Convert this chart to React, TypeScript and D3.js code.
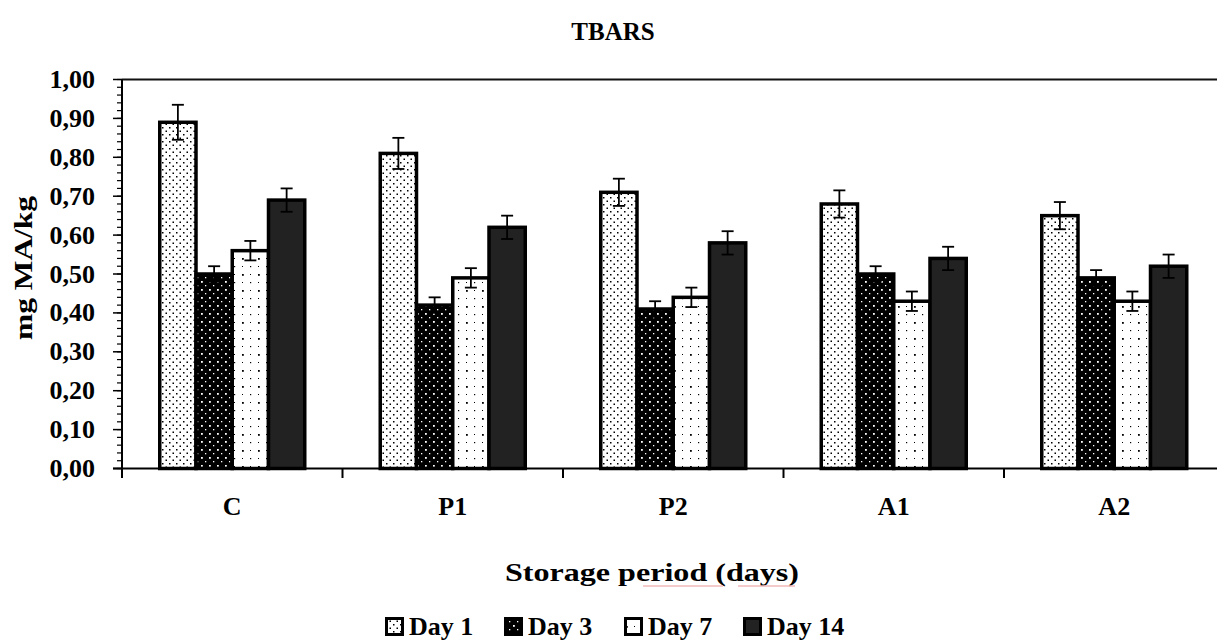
import React from "react";
import * as d3 from "d3";

const categories = ["C", "P1", "P2", "A1", "A2"];
const series = ["Day 1", "Day 3", "Day 7", "Day 14"];
const day1 = [0.89, 0.81, 0.71, 0.68, 0.65];
const day3 = [0.5, 0.42, 0.41, 0.5, 0.49];
const day7 = [0.56, 0.49, 0.44, 0.43, 0.43];
const day14 = [0.69, 0.62, 0.58, 0.54, 0.52];
const err1 = [0.045, 0.04, 0.035, 0.035, 0.035];
const err3 = [0.02, 0.02, 0.02, 0.02, 0.02];
const err7 = [0.025, 0.025, 0.025, 0.025, 0.025];
const err14 = [0.03, 0.03, 0.03, 0.03, 0.03];
const yTicks = [0, 0.1, 0.2, 0.3, 0.4, 0.5, 0.6, 0.7, 0.8, 0.9, 1.0];

const values = [day1, day3, day7, day14];
const errors = [err1, err3, err7, err14];
const fills = ["url(#p1)", "url(#p3)", "url(#p7)", "#222222"];

const W = 1217;
const H = 640;
const left = 122;
const bandW = 220.5;
const FONT = "'Liberation Serif', 'Times New Roman', serif";

export default function App() {
  const x = d3
    .scaleBand<string>()
    .domain(categories)
    .range([left, left + bandW * categories.length])
    .padding(0);
  const xs = d3
    .scaleBand<string>()
    .domain(series)
    .range([37.75, bandW - 37.75])
    .padding(0);
  const y = d3.scaleLinear().domain([0, 1]).range([468.5, 79.5]);
  const minor = d3.range(0, 1.0001, 0.02);
  const fmt = (v: number) => d3.format(".2f")(v).replace(".", ",");

  return (
    <svg width={W} height={H} style={{ display: "block", position: "absolute", left: 0, top: 0 }} fontFamily={FONT}>
      <defs>
        <pattern id="p1" width="7" height="7" patternUnits="userSpaceOnUse">
          <rect width="7" height="7" fill="#fff" />
          <rect x="1" y="1" width="1.5" height="1.5" fill="#000" />
          <rect x="4.5" y="4.5" width="1.5" height="1.5" fill="#000" />
        </pattern>
        <pattern id="p3" width="8" height="8" patternUnits="userSpaceOnUse">
          <rect width="8" height="8" fill="#000" />
          <rect x="1" y="1" width="1.8" height="1.8" fill="#fff" />
          <rect x="5" y="5" width="1.3" height="1.3" fill="#fff" />
        </pattern>
        <pattern id="p7" width="16" height="16" patternUnits="userSpaceOnUse">
          <rect width="16" height="16" fill="#fff" />
          <rect x="2" y="2" width="1.8" height="1.8" fill="#000" />
          <rect x="10" y="10" width="1.2" height="1.2" fill="#000" />
          <rect x="10" y="2" width="1" height="1" fill="#000" />
          <rect x="2" y="10" width="1" height="1" fill="#000" />
        </pattern>
      </defs>
      <rect width={W} height={H} fill="#fff" />

      <text x={613} y={40} textAnchor="middle" fontSize={25} fontWeight="bold">TBARS</text>

      {/* plot border top */}
      <line x1={left} x2={W} y1={y(1)} y2={y(1)} stroke="#111" strokeWidth={2} />

      {/* bars */}
      {categories.map((c, ci) => (
        <g key={c}>
          {series.map((s, si) => {
            const v = values[si][ci];
            const bx = (x(c) as number) + (xs(s) as number);
            const bw = xs.bandwidth();
            return (
              <rect key={s} x={bx} y={y(v)} width={bw} height={y(0) - y(v)} fill={fills[si]} stroke="#000" strokeWidth={3.5} />
            );
          })}
        </g>
      ))}
      {/* error bars */}
      {categories.map((c, ci) => (
        <g key={"e" + c} stroke="#000" strokeWidth={1.8}>
          {series.map((s, si) => {
            const v = values[si][ci];
            const e = errors[si][ci];
            const cx = (x(c) as number) + (xs(s) as number) + xs.bandwidth() / 2;
            return (
              <g key={s}>
                <line x1={cx} x2={cx} y1={y(v + e)} y2={y(v - e)} />
                <line x1={cx - 6} x2={cx + 6} y1={y(v + e)} y2={y(v + e)} />
                <line x1={cx - 6} x2={cx + 6} y1={y(v - e)} y2={y(v - e)} />
              </g>
            );
          })}
        </g>
      ))}

      {/* y axis */}
      <line x1={left} x2={left} y1={y(1)} y2={478} stroke="#000" strokeWidth={2} />
      {minor.map((m, i) => (
        <line key={"m" + i} x1={left - 5} x2={left} y1={y(m)} y2={y(m)} stroke="#000" strokeWidth={1.2} />
      ))}
      {yTicks.map((t) => (
        <g key={"t" + t}>
          <line x1={left - 9} x2={left} y1={y(t)} y2={y(t)} stroke="#000" strokeWidth={1.5} />
          <text x={95} y={y(t) + 8.5} textAnchor="end" fontSize={26} fontWeight="bold">{fmt(t)}</text>
        </g>
      ))}

      {/* x axis */}
      <line x1={left - 9} x2={W} y1={y(0)} y2={y(0)} stroke="#000" strokeWidth={2} />
      {d3.range(categories.length + 1).map((i) => (
        <line key={"xt" + i} x1={left + i * bandW} x2={left + i * bandW} y1={y(0)} y2={478} stroke="#000" strokeWidth={2} />
      ))}
      {categories.map((c) => (
        <text key={"l" + c} x={(x(c) as number) + bandW / 2} y={515} textAnchor="middle" fontSize={26} fontWeight="bold">{c}</text>
      ))}

      <text x={652} y={581} textAnchor="middle" fontSize={26} fontWeight="bold" textLength={294} lengthAdjust="spacingAndGlyphs">Storage period (days)</text>
      <line x1={643} x2={723} y1={586} y2={586} stroke="#f2b8b8" strokeWidth={1.5} />
      <line x1={738} x2={795} y1={586} y2={586} stroke="#f2b8b8" strokeWidth={1.5} />

      <text transform={`translate(32,${268}) rotate(-90)`} textAnchor="middle" fontSize={26} fontWeight="bold" textLength={144} lengthAdjust="spacingAndGlyphs">mg MA/kg</text>

      {/* legend */}
      {series.map((s, si) => {
        const lx = [385, 504, 624, 743][si];
        return (
          <g key={"lg" + s}>
            <rect x={lx + 1.5} y={618.5} width={16} height={16} fill={fills[si]} stroke="#000" strokeWidth={3} />
            <text x={lx + 24} y={635} fontSize={26} fontWeight="bold">{s}</text>
          </g>
        );
      })}
    </svg>
  );
}
